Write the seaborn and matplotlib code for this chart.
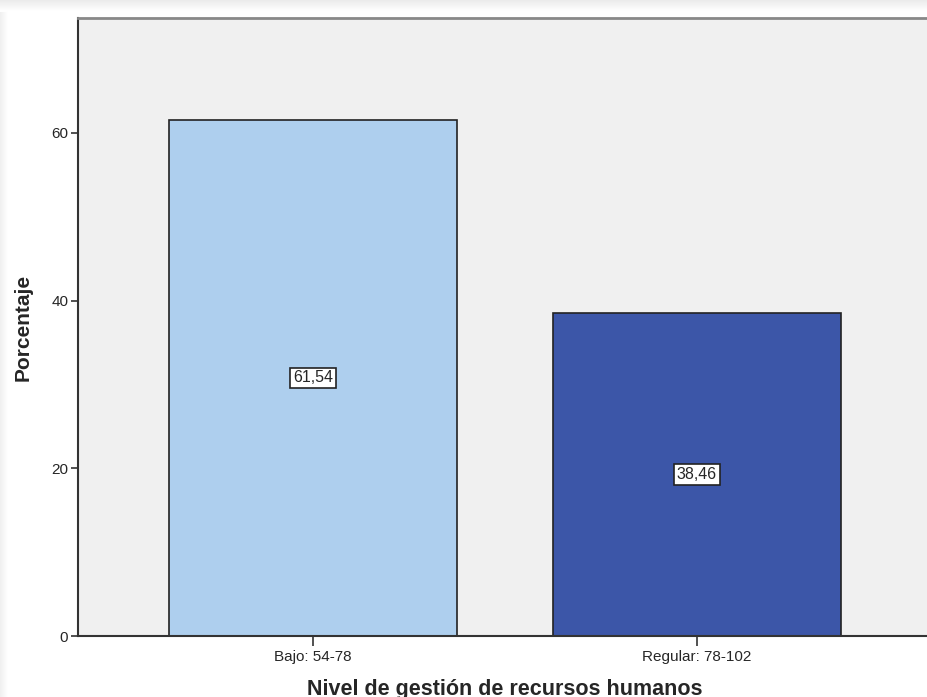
import numpy as np
import pandas as pd
import matplotlib
matplotlib.use("Agg")
import matplotlib.pyplot as plt
import seaborn as sns

# data
categorias = ["Bajo: 54-78", "Regular: 78-102"]
porcentajes = [61.54, 38.46]
colores = ["#AECFEE", "#3C56A8"]
etiquetas = ["61,54", "38,46"]

df = pd.DataFrame({"nivel": categorias, "pct": porcentajes})

sns.set_style("white")
plt.rcParams["font.family"] = ["Liberation Sans", "DejaVu Sans"]

fig = plt.figure(figsize=(9.28, 6.97), dpi=100)
fig.patch.set_facecolor("white")

# soft window shadow along the top and left edge
shadow = fig.add_axes([0, 0, 1, 1], zorder=-5)
grad = np.ones((697, 928))
top = np.linspace(0.92, 1.0, 12)
grad[:12, :] = top[:, None]
left = np.linspace(0.94, 1.0, 9)
grad[12:, :9] = np.minimum(grad[12:, :9], left[None, :])
shadow.imshow(grad, cmap="gray", vmin=0, vmax=1, aspect="auto")
shadow.axis("off")

ax = fig.add_axes([78 / 928, 1 - 636 / 697, (932 - 78) / 928, (636 - 18) / 697])
ax.set_facecolor("#F0F0F0")

sns.barplot(data=df, x="nivel", y="pct", hue="nivel", palette=colores,
            saturation=1, width=0.75, edgecolor="#222222", linewidth=1.2,
            legend=False, ax=ax)

ax.set_xlim(-0.612, 1.612)
ax.set_ylim(0, 73.7)
ax.set_yticks([0, 20, 40, 60])

for i, (v, t) in enumerate(zip(porcentajes, etiquetas)):
    ax.text(i, v / 2, t, ha="center", va="center", fontsize=11.5,
            bbox=dict(boxstyle="square,pad=0.18", fc="white", ec="#222222", lw=1.2))

for side in ["left", "bottom"]:
    ax.spines[side].set_color("#333333")
    ax.spines[side].set_linewidth(1.5)
ax.spines["top"].set_color("#888888")
ax.spines["top"].set_linewidth(2)
ax.spines["right"].set_visible(False)

ax.tick_params(axis="y", which="both", left=True, length=5, width=1.2,
               color="#333333", labelsize=11, pad=2)
ax.tick_params(axis="x", which="both", bottom=True, length=7, width=1.2,
               color="#333333", labelsize=11, pad=3)

ax.set_xlabel("Nivel de gestión de recursos humanos", fontsize=15.5,
              fontweight="bold")
ax.xaxis.set_label_coords(0.5, -0.069)
ax.set_ylabel("Porcentaje", fontsize=15, fontweight="bold")
ax.yaxis.set_label_coords(-0.053, 0.5)

fig.savefig("out.png", dpi=100)
